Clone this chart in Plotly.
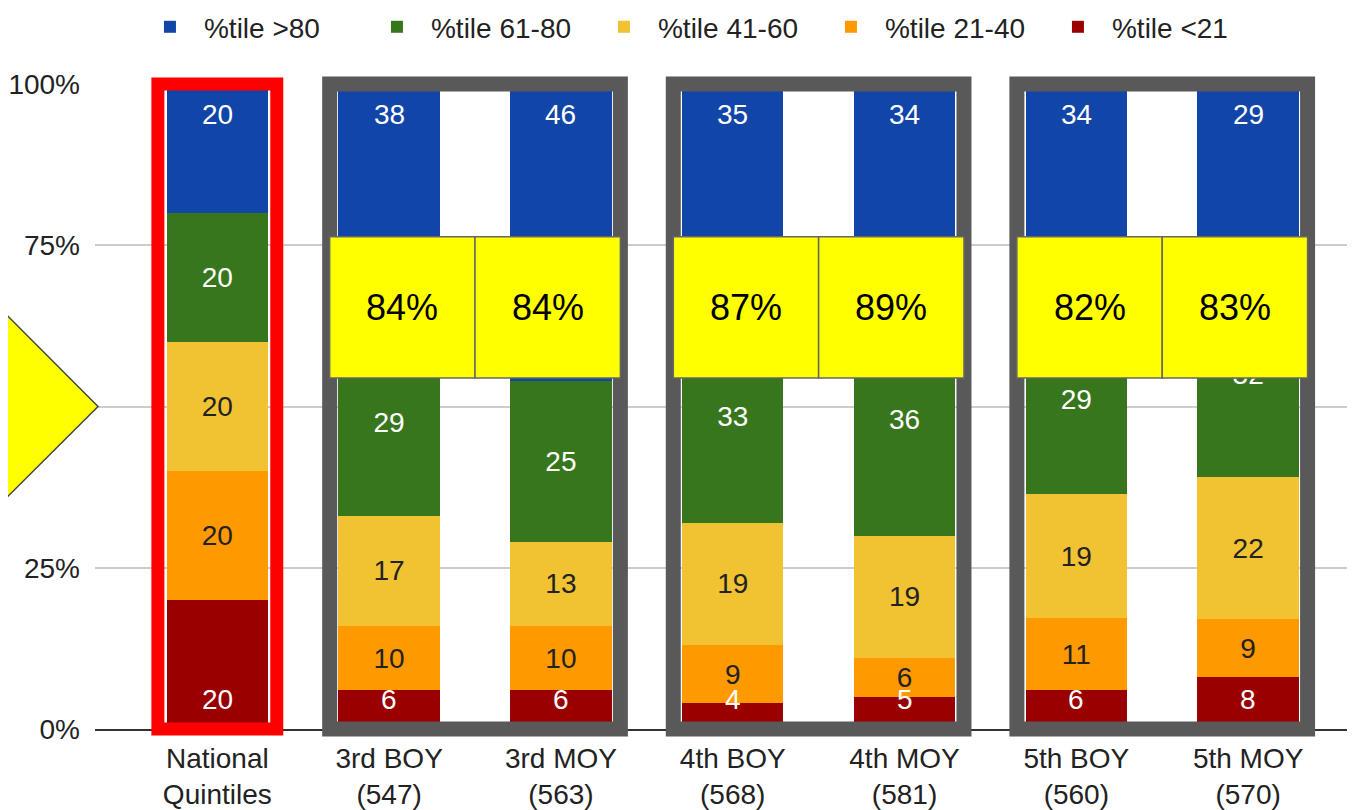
import plotly.graph_objects as go

# categories (x) and stacked shares per percentile band
categories = ["National<br>Quintiles", "3rd BOY<br>(547)", "3rd MOY<br>(563)",
              "4th BOY<br>(568)", "4th MOY<br>(581)", "5th BOY<br>(560)", "5th MOY<br>(570)"]

pct_below_21 = [20, 6, 6, 4, 5, 6, 8]
pct_21_40 = [20, 10, 10, 9, 6, 11, 9]
pct_41_60 = [20, 17, 13, 19, 19, 19, 22]
pct_61_80 = [20, 29, 25, 33, 36, 29, 32]
pct_above_80 = [20, 38, 46, 35, 34, 34, 29]

band_names = ["%tile <21", "%tile 21-40", "%tile 41-60", "%tile 61-80", "%tile >80"]
band_colors = ["#990000", "#ff9900", "#f1c232", "#38761d", "#1145a8"]

# grade groups that get a grey frame + yellow callouts (index pairs into categories)
group_pairs = [(1, 2), (3, 4), (5, 6)]

FONT = "Liberation Sans"
X_RANGE = [-0.712, 6.622]
HALF = 0.346  # half width of a frame around one bar, in category units


def xp(c):
    """category position -> paper x"""
    return (c - X_RANGE[0]) / (X_RANGE[1] - X_RANGE[0])


fig = go.Figure()

bands = [pct_below_21, pct_21_40, pct_41_60, pct_61_80, pct_above_80]
text_colors = ["white", "#222222", "#222222", "white", "white"]
for i, (vals, name, col) in enumerate(zip(bands, band_names, band_colors)):
    mid = 0 < i < 4
    fig.add_trace(go.Bar(
        x=categories, y=vals, name=name,
        marker=dict(color=col, line=dict(width=0)),
        text=vals if mid else None,
        textposition="inside" if mid else "none",
        insidetextanchor="middle",
        textangle=0,
        constraintext="none",
        insidetextfont=dict(family=FONT, size=28, color=text_colors[i]),
    ))

shapes = []
annotations = []

# red frame around the national reference bar
shapes.append(dict(type="rect", xref="paper", yref="paper",
                   x0=xp(-HALF), x1=xp(HALF), y0=0, y1=1,
                   line=dict(color="#ff0000", width=13), layer="above"))

# grey frames around each grade
for a, b in group_pairs:
    shapes.append(dict(type="rect", xref="paper", yref="paper",
                       x0=xp(a - HALF), x1=xp(b + HALF), y0=0, y1=1,
                       line=dict(color="#595959", width=15), layer="above"))

# yellow callouts: share at or above the 41st percentile
for a, b in group_pairs:
    m = (a + b) / 2
    for idx, (l, r) in zip((a, b), ((a - HALF, m), (m, b + HALF))):
        shapes.append(dict(type="rect", xref="paper", yref="paper",
                           x0=xp(l), x1=xp(r), y0=0.544, y1=0.763,
                           fillcolor="#ffff00", line=dict(color="#666666", width=1.5),
                           layer="above"))
        tot = pct_41_60[idx] + pct_61_80[idx] + pct_above_80[idx]
        annotations.append(dict(xref="paper", yref="paper", x=xp((l + r) / 2), y=0.6535,
                                xanchor="center", yanchor="middle",
                                text=f"{tot}%", showarrow=False,
                                font=dict(family=FONT, size=36, color="black")))

# yellow arrow head poking in from the left edge
shapes.append(dict(type="path", xref="paper", yref="paper",
                   path="M 0.0024 0.5 L -0.0762 0.654 L -0.155 0.5 L -0.0762 0.347 Z",
                   fillcolor="#ffff00", line=dict(color="#444444", width=1.5), layer="above"))

# top and bottom band labels sit at fixed spots near the frame edges
for c, v in zip(categories, pct_above_80):
    annotations.append(dict(x=c, y=95.2, xref="x", yref="y", text=str(v), showarrow=False,
                            font=dict(family=FONT, size=28, color="white")))
for c, v in zip(categories, pct_below_21):
    annotations.append(dict(x=c, y=4.5, xref="x", yref="y", text=str(v), showarrow=False,
                            font=dict(family=FONT, size=28, color="white")))

# page body has an 8px margin, so the figure is 8px smaller than the window
fig.update_layout(
    width=1347, height=802,
    barmode="stack", barnorm="percent", bargap=0.41,
    plot_bgcolor="white", paper_bgcolor="white",
    font=dict(family=FONT, size=28, color="#222222"),
    margin=dict(l=87, r=0, t=76, b=81, autoexpand=False),
    showlegend=True,
    legend=dict(orientation="h", traceorder="reversed", x=0.0325, y=1.127,
                xanchor="left", yanchor="top", itemwidth=58, entrywidth=154,
                font=dict(family=FONT, size=28, color="#222222")),
    xaxis=dict(range=X_RANGE, showline=True, linecolor="#333333", linewidth=2,
               ticks="", showgrid=False, ticklabelstandoff=3,
               tickfont=dict(family=FONT, size=28, color="#222222")),
    yaxis=dict(range=[0, 100], dtick=25, ticksuffix="%", showgrid=True,
               gridcolor="#cccccc", gridwidth=2, zeroline=False, showline=False,
               ticks="", ticklabelstandoff=14, tickfont=dict(family=FONT, size=28, color="#222222")),
    shapes=shapes,
    annotations=annotations,
)

fig.write_html("out.html")
